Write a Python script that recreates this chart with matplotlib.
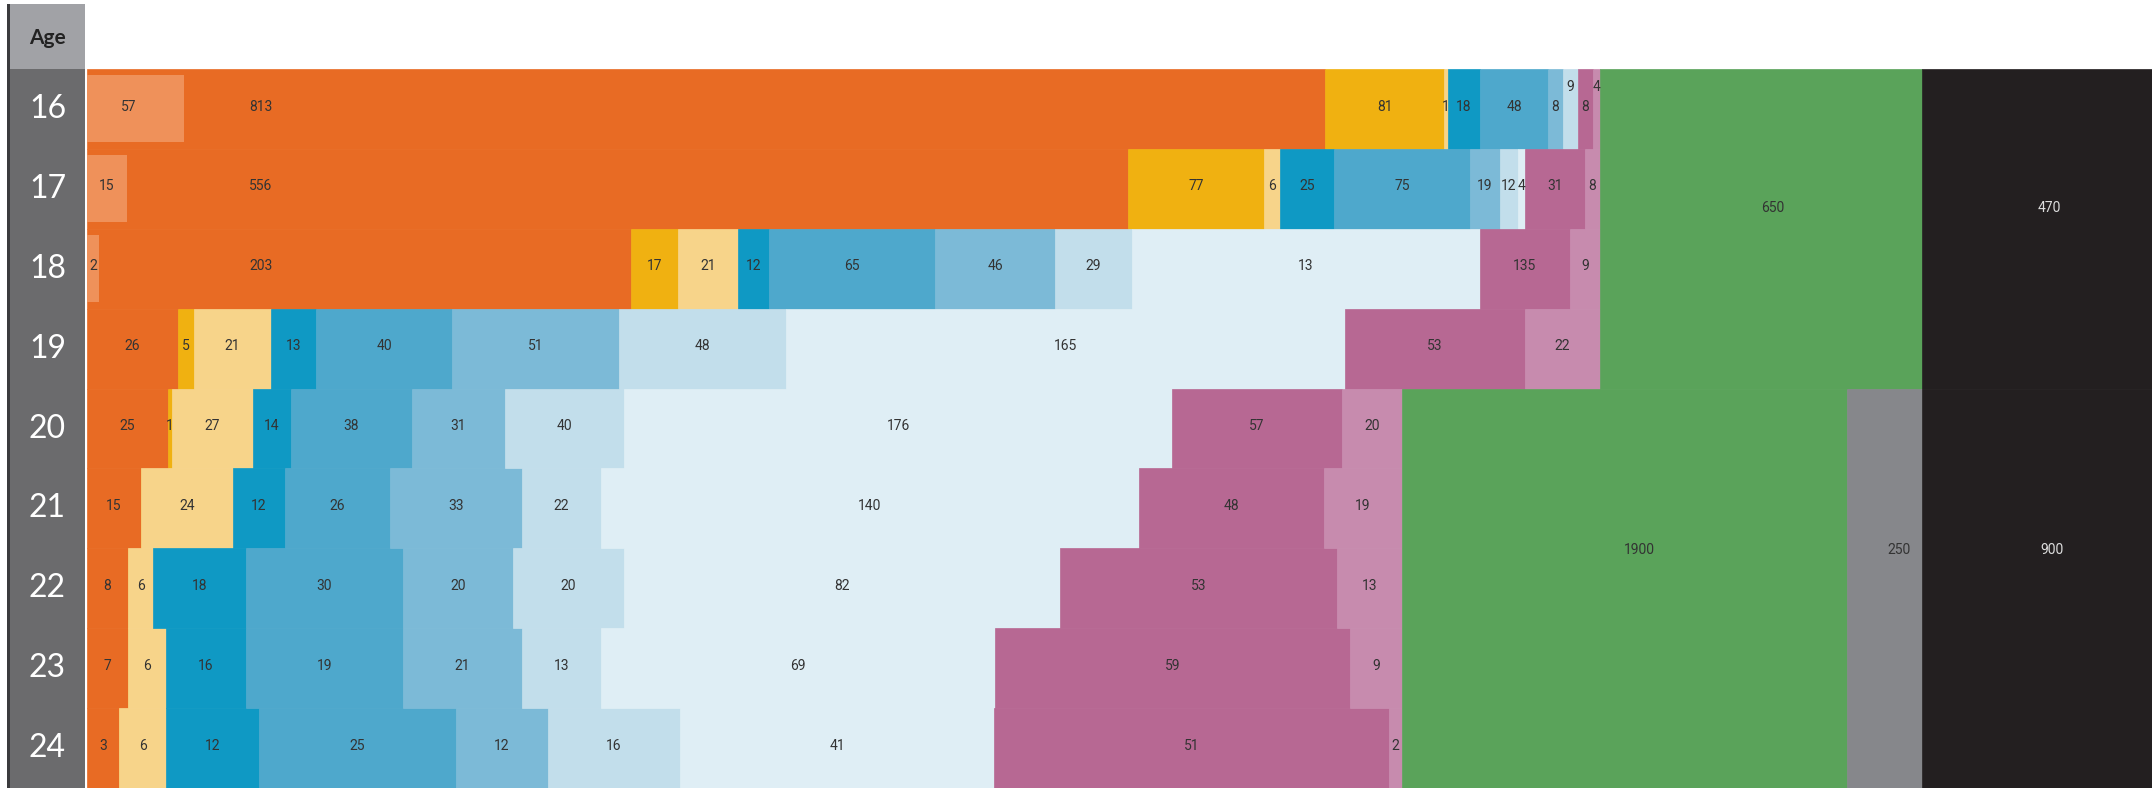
import matplotlib
matplotlib.use('Agg')
import matplotlib.pyplot as plt
from matplotlib import font_manager as fm
import numpy as np

ages = [16, 17, 18, 19, 20, 21, 22, 23, 24]

# segment widths (relative units) and the numbers printed in them
orange_w = [1238, 1041, 544, 91, 81, 54, 41, 41, 32]
orange_n = [813, 556, 203, 26, 25, 15, 8, 7, 3]
yellow_w = [119, 136, 47, 16, 4, 0, 0, 0, 0]
yellow_n = [81, 77, 17, 5, 1, None, None, None, None]
yellow_lt_w = [4, 16, 60, 77, 81, 92, 25, 38, 47]
yellow_lt_n = [1, 6, 21, 21, 27, 24, 6, 6, 6]
blue_dk_w = [32, 54, 31, 45, 38, 52, 93, 80, 93]
blue_dk_n = [18, 25, 12, 13, 14, 12, 18, 16, 12]
blue_w = [68, 136, 166, 136, 121, 105, 157, 157, 197]
blue_n = [48, 75, 65, 40, 38, 26, 30, 19, 25]
blue_lt_w = [15, 30, 120, 167, 93, 132, 110, 119, 92]
blue_lt_n = [8, 19, 46, 51, 31, 33, 20, 21, 12]
blue_lt2_w = [15, 18, 77, 167, 119, 79, 111, 79, 132]
blue_lt2_n = [9, 12, 29, 48, 40, 22, 20, 13, 16]
blue_lt3_w = [0, 7, 348, 559, 548, 538, 436, 394, 314]
blue_lt3_n = [None, 4, 13, 165, 176, 140, 82, 69, 41]
pink_w = [15, 60, 90, 180, 170, 185, 277, 355, 395]
pink_n = [8, 31, 135, 53, 57, 48, 53, 59, 51]
pink_lt_w = [7, 15, 30, 75, 60, 78, 65, 52, 13]
pink_lt_n = [4, 8, 9, 22, 20, 19, 13, 9, 2]

# lighter orange part inside the first three rows
inset_w = [97, 40, 12]
inset_n = [57, 15, 2]

# blocks on the right: ages 16-19 and ages 20-24
top_block_w = [322, 230]
top_block_n = [650, 470]
bottom_block_w = [445, 75, 230]
bottom_block_n = [1900, 250, 900]

series = [
    (orange_w, orange_n, '#E86B24'),
    (yellow_w, yellow_n, '#F0B111'),
    (yellow_lt_w, yellow_lt_n, '#F7D48A'),
    (blue_dk_w, blue_dk_n, '#0F99C4'),
    (blue_w, blue_n, '#4EA8CC'),
    (blue_lt_w, blue_lt_n, '#7CBAD7'),
    (blue_lt2_w, blue_lt2_n, '#C2DEEB'),
    (blue_lt3_w, blue_lt3_n, '#DFEEF5'),
    (pink_w, pink_n, '#B76893'),
    (pink_lt_w, pink_lt_n, '#C78BAE'),
]
top_colors = ['#5AA35A', '#231F20']
bottom_colors = ['#5AA35A', '#86878B', '#231F20']
raised = {(0, 6), (0, 9)}   # labels moved up in the crowded first row


def pick(names):
    avail = {f.name for f in fm.fontManager.ttflist}
    for n in names:
        if n in avail:
            return n
    return 'DejaVu Sans'


num_font = pick(['Liberation Sans Narrow', 'Roboto', 'DejaVu Sans'])
age_font = pick(['Lato', 'Open Sans', 'DejaVu Sans'])
txt = '#333333'

W, H = 2152, 788
fig = plt.figure(figsize=(W / 100, H / 100), dpi=100)
fig.patch.set_facecolor('white')

ax = fig.add_axes([87 / W, 0, 1 - 87 / W, 719 / H])
y = np.arange(len(ages)) + 0.5
left = np.zeros(len(ages))
for k, (w, n, c) in enumerate(series):
    w = np.array(w, dtype=float)
    ax.barh(y, w, left=left, height=1.0, color=c, edgecolor=c, linewidth=0.5)
    for i in range(len(ages)):
        if n[i] is None or w[i] == 0:
            continue
        xc = left[i] + w[i] / 2
        if k == 0 and w[i] > 300:
            xc = left[i] + 174
        yc = y[i] - 0.03
        if (i, k) in raised:
            yc = y[i] - 0.27
        ax.text(xc, yc, str(n[i]), ha='center', va='center', fontsize=10,
                color=txt, family=num_font)
    left = left + w

# inset light orange
ax.barh(y[:3], inset_w, left=0, height=0.84, color='#EF915A', linewidth=0)
for i in range(3):
    ax.text(inset_w[i] / 2 - (7 if inset_w[i] > 60 else 0), y[i] - 0.03, str(inset_n[i]),
            ha='center', va='center', fontsize=10, color=txt, family=num_font)

# right-hand blocks
x0 = left[0]
for w, n, c in zip(top_block_w, top_block_n, top_colors):
    ax.barh(2.0, w, left=x0, height=4.0, color=c, edgecolor=c, linewidth=0.5)
    ax.text(x0 + w / 2 + 12, 1.74, str(n), ha='center', va='center', fontsize=10,
            color='#dddddd' if c == '#231F20' else txt, family=num_font)
    x0 += w
x0 = left[4]
for w, n, c in zip(bottom_block_w, bottom_block_n, bottom_colors):
    ax.barh(6.5, w, left=x0, height=5.0, color=c, edgecolor=c, linewidth=0.5)
    ax.text(x0 + w / 2 + 15, 6.02, str(n), ha='center', va='center', fontsize=10,
            color='#dddddd' if c == '#231F20' else txt, family=num_font)
    x0 += w

ax.set_xlim(0, left[0] + sum(top_block_w))
ax.set_ylim(len(ages), 0)
ax.axis('off')

# age column
ax_age = fig.add_axes([10 / W, 0, 75 / W, 719 / H])
ax_age.set_facecolor('#6B6B6D')
ax_age.set_xlim(0, 1)
ax_age.set_ylim(len(ages), 0)
ax_age.set_xticks([])
ax_age.set_yticks([])
for s in ax_age.spines.values():
    s.set_visible(False)
for i, a in enumerate(ages):
    ax_age.text(0.5, y[i], str(a), ha='center', va='center', fontsize=23,
                color='#ffffff', family=age_font, weight='normal')

ax_hdr = fig.add_axes([10 / W, 719 / H, 75 / W, 65 / H])
ax_hdr.set_facecolor('#A1A2A6')
ax_hdr.set_xticks([])
ax_hdr.set_yticks([])
for s in ax_hdr.spines.values():
    s.set_visible(False)
ax_hdr.text(0.5, 0.48, 'Age', ha='center', va='center', fontsize=15,
            weight='bold', color='#222222', family=age_font, transform=ax_hdr.transAxes)

ax_strip = fig.add_axes([7 / W, 0, 3 / W, 784 / H])
ax_strip.set_facecolor('#3B3B3D')
ax_strip.set_xticks([])
ax_strip.set_yticks([])
for s in ax_strip.spines.values():
    s.set_visible(False)

fig.savefig('out.png', dpi=100)
